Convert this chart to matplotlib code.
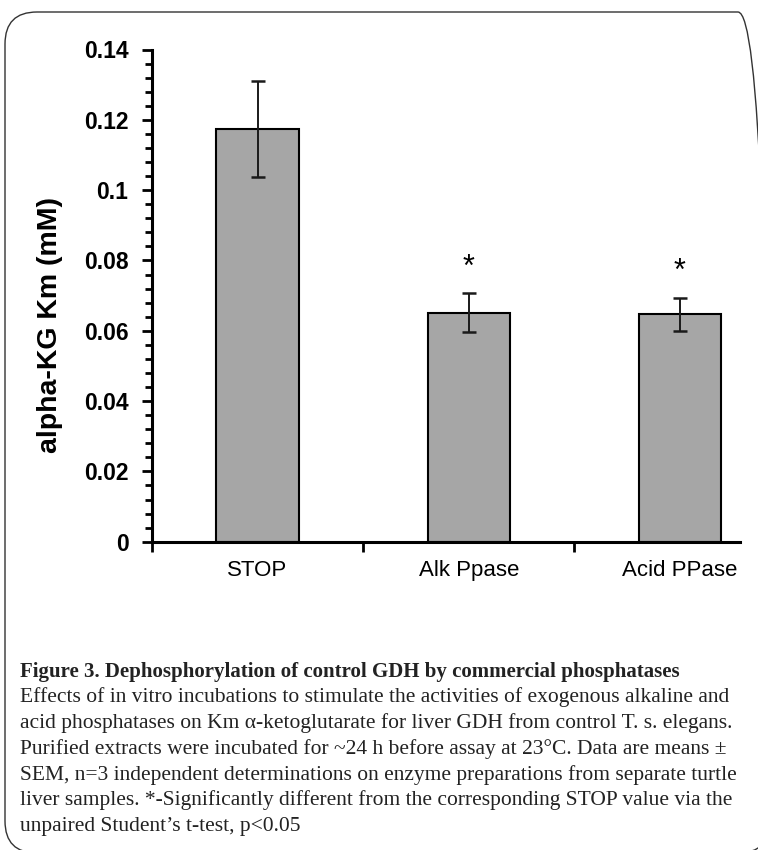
import numpy as np
import matplotlib.pyplot as plt
from matplotlib.patches import FancyBboxPatch
from matplotlib.ticker import MultipleLocator

# data
groups = ["STOP", "Alk Ppase", "Acid PPase"]
km = [0.1174, 0.0651, 0.0647]
sem = [0.0136, 0.0055, 0.0047]
marks = ["", "*", "*"]

caption_title = "Figure 3. Dephosphorylation of control GDH by commercial phosphatases"
caption_lines = [
    "Effects of in vitro incubations to stimulate the activities of exogenous alkaline and",
    "acid phosphatases on Km \u03b1-ketoglutarate for liver GDH from control T. s. elegans.",
    "Purified extracts were incubated for ~24 h before assay at 23\u00b0C. Data are means \u00b1",
    "SEM, n=3 independent determinations on enzyme preparations from separate turtle",
    "liver samples. *-Significantly different from the corresponding STOP value via the",
    "unpaired Student\u2019s t-test, p<0.05",
]

W, H = 758, 850
fig = plt.figure(figsize=(W / 100, H / 100), dpi=100)

# rounded frame around everything
frame = FancyBboxPatch((0.05, -0.03), 7.65, 8.41, boxstyle="round,pad=0,rounding_size=0.32",
                       transform=fig.dpi_scale_trans, fill=False, edgecolor="#333333", linewidth=1.0)
fig.patches.append(frame)

ax = fig.add_axes([152 / W, 1 - 541.7 / H, (740 - 152) / W, (541.7 - 49.5) / H])
x = np.arange(len(groups))
ax.bar(x, km, width=0.39, color="#a6a6a6", edgecolor="black", linewidth=1.5, zorder=2)
ax.errorbar(x, km, yerr=sem, fmt="none", ecolor="#1a1a1a", elinewidth=1.4, capsize=5, capthick=1.8, zorder=3)
for i in range(len(groups)):
    if marks[i]:
        ax.text(x[i], km[i] + sem[i] + 0.0074, marks[i], ha="center", va="center",
                fontsize=22, family="Liberation Sans")

ax.set_xlim(-0.5, 2.285)
ax.set_ylim(0, 0.14)
ax.yaxis.set_minor_locator(MultipleLocator(0.004))
ax.set_yticks([0, 0.02, 0.04, 0.06, 0.08, 0.1, 0.12, 0.14])
ax.set_yticklabels(["0", "0.02", "0.04", "0.06", "0.08", "0.1", "0.12", "0.14"],
                   fontsize=16.5, fontweight="bold", family="Liberation Sans")
ax.set_xticks([-0.5, 0.5, 1.5])
ax.set_xticklabels([])
ax.xaxis.set_minor_locator(plt.FixedLocator(x))
ax.xaxis.set_minor_formatter(plt.FixedFormatter(groups))
ax.tick_params(axis="x", which="minor", length=0, pad=13, labelsize=16)
for lab in ax.get_xticklabels(minor=True):
    lab.set_family("Liberation Sans")
ax.tick_params(axis="x", which="major", length=7, width=2, direction="out")
ax.tick_params(axis="y", which="major", length=7, width=2, direction="out", pad=10)
ax.tick_params(axis="y", which="minor", length=5, width=2, direction="out")

for s in ["top", "right"]:
    ax.spines[s].set_visible(False)
ax.spines["left"].set_linewidth(2.2)
ax.spines["bottom"].set_linewidth(2.2)

ax.set_ylabel("alpha-KG Km (mM)", fontsize=20.5, fontweight="bold", family="Liberation Sans")
ax.yaxis.set_label_coords(-0.152, 0.44)

# caption
fig.text(20 / W, 1 - 672 / H, caption_title, fontsize=15, fontweight="bold",
         family="Liberation Serif", va="center", ha="left", color="#222222")
for k, line in enumerate(caption_lines):
    fig.text(20 / W, 1 - (697.5 + 25.7 * k) / H, line, fontsize=15.5,
             family="Liberation Serif", va="center", ha="left", color="#222222")

fig.savefig("out.png", dpi=100)
